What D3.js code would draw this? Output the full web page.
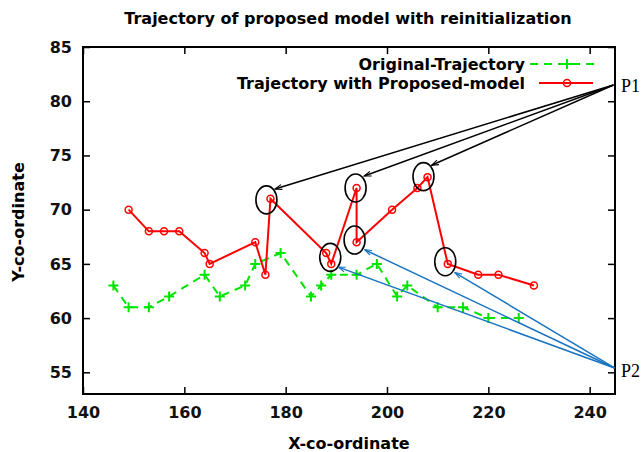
<!DOCTYPE html>
<html>
<head>
<meta charset="utf-8">
<script src="https://cdn.jsdelivr.net/npm/d3@7"></script>
<style>
  html, body { margin: 0; padding: 0; background: #fff; }
  svg { display: block; }
  text.sans { font-family: "DejaVu Sans", sans-serif; font-weight: bold; }
  text.callout { font-family: "Liberation Serif", serif; font-weight: normal; }
</style>
</head>
<body>
<svg id="chart" width="641" height="452"></svg>
<script>
// Original trajectory (green, dashed)
const origX = [146, 149, 153, 157, 164, 167, 172, 174, 179, 185, 187, 189, 194, 198, 202, 204, 210, 215, 220, 226];
const origY = [63, 61, 61, 62, 64, 62, 63, 65, 66, 62, 63, 64, 64, 65, 62, 63, 61, 61, 60, 60];

// Trajectory with the proposed model (red, circles)
const propX = [149, 153, 156, 159, 164, 165, 174, 176, 177, 188, 189, 194, 194, 201, 206, 208, 212, 218, 222, 229];
const propY = [70, 68, 68, 68, 66, 65, 67, 64, 71, 66, 65, 72, 67, 70, 72, 73, 65, 64, 64, 63];

const xTicks = [140, 160, 180, 200, 220, 240];
const yTicks = [55, 60, 65, 70, 75, 80, 85];

// Reinitialization points circled on the red trajectory (data units)
const markCX = [176.2, 188.8, 193.8, 193.6, 207.2, 211.5];
const markCY = [70.9, 65.6, 72.0, 67.2, 73.05, 65.2];

// Annotation callouts: P1 (black) and P2 (blue)
const p1 = [244.7, 81.5];
const p1TipX = [177.9, 195.5, 208.8];
const p1TipY = [71.9, 73.1, 74.1];
const p2 = [244.9, 55.4];
const p2TipX = [190.4, 195.6, 213.4];
const p2TipY = [64.7, 66.3, 64.2];

const svg = d3.select("#chart");
const L = 83, R = 615, T = 47, B = 394;
const FS = 16;

const x = d3.scaleLinear().domain([140, 245]).range([L, R]);
const y = d3.scaleLinear().domain([53, 85]).range([B, T]);

// Arrowhead markers
const defs = svg.append("defs");
function head(id, color) {
  defs.append("marker")
    .attr("id", id)
    .attr("viewBox", "0 -5 10 10")
    .attr("refX", 10).attr("refY", 0)
    .attr("markerUnits", "userSpaceOnUse")
    .attr("markerWidth", 9).attr("markerHeight", 7)
    .attr("orient", "auto")
    .append("path")
    .attr("d", "M0,-3.5L10,0L0,3.5")
    .attr("fill", "none")
    .attr("stroke", color)
    .attr("stroke-width", 1.6);
}
head("headBlack", "#000");
head("headBlue", "#1874c0");

// Axes with inward ticks on all four sides
const fmt = d3.format("d");
svg.append("g")
  .attr("transform", `translate(0,${B})`)
  .call(d3.axisBottom(x).tickValues(xTicks).tickSize(-7).tickPadding(13).tickFormat(fmt))
  .call(g => g.select(".domain").remove());
svg.append("g")
  .attr("transform", `translate(0,${T})`)
  .call(d3.axisTop(x).tickValues(xTicks).tickSize(-7).tickFormat(""))
  .call(g => g.select(".domain").remove());
svg.append("g")
  .attr("transform", `translate(${L},0)`)
  .call(d3.axisLeft(y).tickValues(yTicks).tickSize(-7).tickPadding(11).tickFormat(fmt))
  .call(g => g.select(".domain").remove());
svg.append("g")
  .attr("transform", `translate(${R},0)`)
  .call(d3.axisRight(y).tickValues(yTicks).tickSize(-7).tickFormat(""))
  .call(g => g.select(".domain").remove());

svg.selectAll(".tick line").attr("stroke", "#000").attr("stroke-width", 1.5);
svg.selectAll(".tick text")
  .attr("class", "sans")
  .attr("font-size", FS).attr("fill", "#111");

// Plot frame
svg.append("rect")
  .attr("x", L).attr("y", T)
  .attr("width", R - L).attr("height", B - T)
  .attr("fill", "none").attr("stroke", "#000").attr("stroke-width", 2);

// Title and axis titles
svg.append("text").attr("class", "sans").attr("x", 348).attr("y", 24)
  .attr("text-anchor", "middle").attr("font-size", FS)
  .text("Trajectory of proposed model with reinitialization");
svg.append("text").attr("class", "sans").attr("x", 349).attr("y", 449)
  .attr("text-anchor", "middle").attr("font-size", FS)
  .text("X-co-ordinate");
svg.append("text").attr("class", "sans")
  .attr("transform", "translate(24,222) rotate(-90)")
  .attr("text-anchor", "middle").attr("font-size", FS)
  .text("Y-co-ordinate");

// Green original trajectory
const green = "#00e400";
const orig = origX.map((d, i) => [d, origY[i]]);
const line = d3.line().x(d => x(d[0])).y(d => y(d[1]));
svg.append("path").datum(orig)
  .attr("d", line).attr("fill", "none")
  .attr("stroke", green).attr("stroke-width", 2)
  .attr("stroke-dasharray", "8,6");
const plus = "M-5,0H5M0,-5V5";
svg.append("g").selectAll("path").data(orig).join("path")
  .attr("transform", d => `translate(${x(d[0])},${y(d[1])})`)
  .attr("d", plus).attr("stroke", green).attr("stroke-width", 2);

// Red proposed-model trajectory
const red = "#ff0000";
const prop = propX.map((d, i) => [d, propY[i]]);
svg.append("path").datum(prop)
  .attr("d", line).attr("fill", "none")
  .attr("stroke", red).attr("stroke-width", 2);
svg.append("g").selectAll("circle").data(prop).join("circle")
  .attr("cx", d => x(d[0])).attr("cy", d => y(d[1])).attr("r", 3.5)
  .attr("fill", "none").attr("stroke", red).attr("stroke-width", 1.5);

// Circled reinitialization points
svg.append("g").selectAll("ellipse").data(markCX).join("ellipse")
  .attr("cx", d => x(d)).attr("cy", (d, i) => y(markCY[i]))
  .attr("rx", 10.5).attr("ry", 14)
  .attr("fill", "none").attr("stroke", "#000").attr("stroke-width", 1.6);

// Callout arrows
svg.append("g").selectAll("line").data(p1TipX).join("line")
  .attr("x1", x(p1[0])).attr("y1", y(p1[1]))
  .attr("x2", d => x(d)).attr("y2", (d, i) => y(p1TipY[i]))
  .attr("stroke", "#000").attr("stroke-width", 1.5)
  .attr("marker-end", "url(#headBlack)");
svg.append("g").selectAll("line").data(p2TipX).join("line")
  .attr("x1", x(p2[0])).attr("y1", y(p2[1]))
  .attr("x2", d => x(d)).attr("y2", (d, i) => y(p2TipY[i]))
  .attr("stroke", "#1874c0").attr("stroke-width", 1.5)
  .attr("marker-end", "url(#headBlue)");

svg.append("text").attr("class", "callout").attr("x", 621).attr("y", 92)
  .attr("font-size", 18).attr("fill", "#000").text("P1");
svg.append("text").attr("class", "callout").attr("x", 621).attr("y", 377)
  .attr("font-size", 18).attr("fill", "#000").text("P2");

// Legend
const lg = svg.append("g");
lg.append("text").attr("class", "sans").attr("x", 525).attr("y", 70)
  .attr("text-anchor", "end").attr("font-size", FS).text("Original-Trajectory");
lg.append("line").attr("x1", 530).attr("x2", 595).attr("y1", 64).attr("y2", 64)
  .attr("stroke", green).attr("stroke-width", 2).attr("stroke-dasharray", "8,6");
lg.append("path").attr("transform", "translate(567,64)")
  .attr("d", plus).attr("stroke", green).attr("stroke-width", 2);
lg.append("text").attr("class", "sans").attr("x", 525).attr("y", 89)
  .attr("text-anchor", "end").attr("font-size", FS).text("Trajectory with Proposed-model");
lg.append("line").attr("x1", 539).attr("x2", 593).attr("y1", 83).attr("y2", 83)
  .attr("stroke", red).attr("stroke-width", 2);
lg.append("circle").attr("cx", 567).attr("cy", 83).attr("r", 3.5)
  .attr("fill", "none").attr("stroke", red).attr("stroke-width", 1.5);
</script>
</body>
</html>
